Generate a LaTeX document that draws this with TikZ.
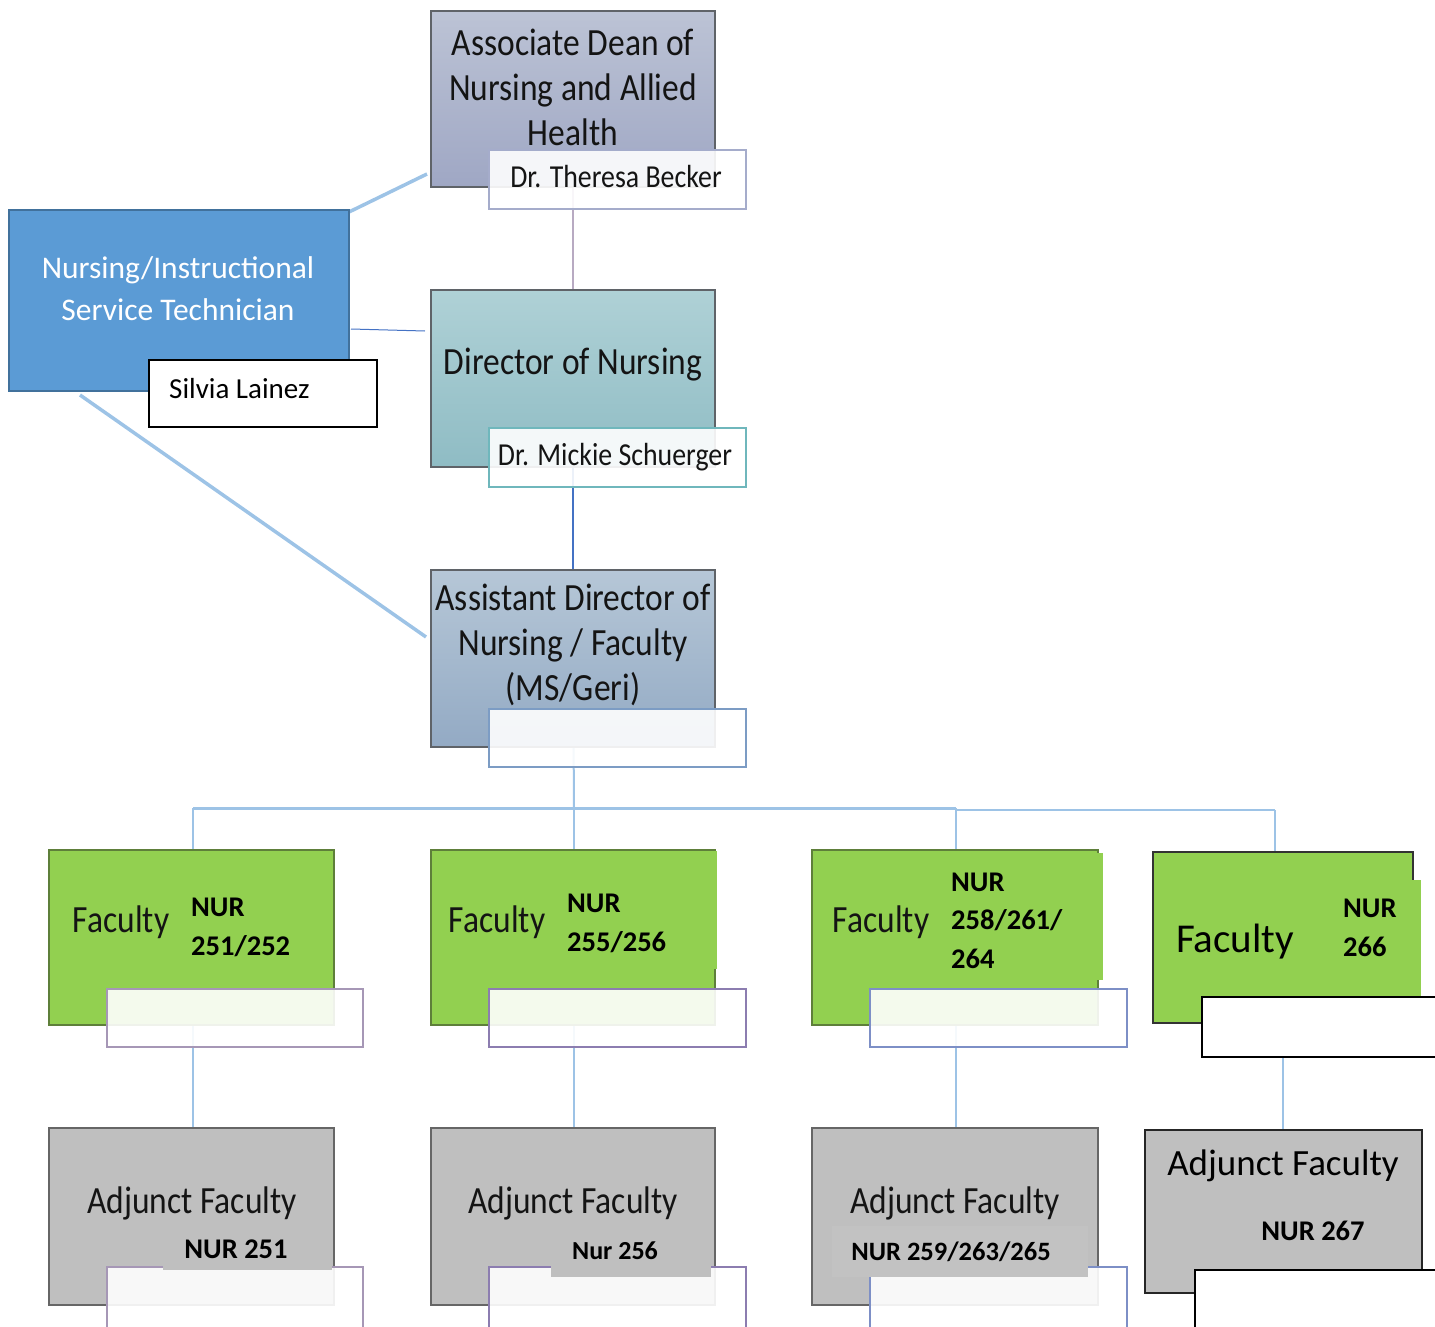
\documentclass[tikz,border=0pt]{standalone}
\usepackage{fontspec}
\setmainfont{Carlito}
\newfontfamily\cond[FakeStretch=0.87]{Carlito}
\usetikzlibrary{calc,backgrounds}
\definecolor{deanT}{HTML}{BCC3D5}
\definecolor{deanB}{HTML}{9FA7C4}
\definecolor{dirT}{HTML}{AFD1D6}
\definecolor{dirB}{HTML}{8FBCC4}
\definecolor{asT}{HTML}{B6C7D7}
\definecolor{asB}{HTML}{93AAC4}
\definecolor{boxline}{HTML}{5F6368}
\definecolor{fgreen}{HTML}{92D050}
\definecolor{gline}{HTML}{5E7F3A}
\definecolor{agray}{HTML}{BFBFBF}
\definecolor{techblue}{HTML}{5B9BD5}
\definecolor{techline}{HTML}{41719C}
\definecolor{lightblue}{HTML}{9DC3E6}
\definecolor{darkblue}{HTML}{4472C4}
\definecolor{mauve}{HTML}{B8AAC2}
\definecolor{lblDean}{HTML}{A5ACCB}
\definecolor{lblDir}{HTML}{6FB7BC}
\definecolor{lblAs}{HTML}{7C9CC4}
\definecolor{lblA}{HTML}{A697B6}
\definecolor{lblB}{HTML}{8C7DB0}
\definecolor{lblC}{HTML}{7D8FC6}
\definecolor{txt}{HTML}{141414}
\begin{document}
\begin{tikzpicture}[x=1pt,y=-1pt,
  box/.style={draw=boxline, line width=1.5pt, inner sep=0pt, outer sep=0pt, anchor=north west},
  lbl/.style={draw, fill=white, fill opacity=0.9, text opacity=1, line width=1.5pt, inner sep=0pt, outer sep=0pt, anchor=north west},
  titletxt/.style={inner sep=0pt, align=center, text=txt, font=\cond\fontsize{38.5}{45}\selectfont},
  nametxt/.style={inner sep=0pt, text=txt, font=\cond\fontsize{32}{38}\selectfont},
  nurtxt/.style={inner sep=0pt, align=left, anchor=west, font=\bfseries\fontsize{28.5}{39}\selectfont},
  lbus/.style={draw=lightblue, line width=2pt},
  thickblue/.style={draw=lightblue, line width=3.5pt},
  textrect/.style={fill=agray, inner sep=0pt, outer sep=0pt, anchor=north west}
]
\useasboundingbox (0,0) rectangle (1435,1327);

% coordinates for connectors
\coordinate (bus0) at (574,808);
\coordinate (d1) at (193,808);
\coordinate (d2) at (574,808);
\coordinate (d3) at (956,808);
\coordinate (d4a) at (956,810);
\coordinate (d4) at (1275,810);
\coordinate (e4) at (1283,1057);
\coordinate (t1) at (349,212);
\coordinate (t1e) at (427,174);
\coordinate (t2) at (351,329);
\coordinate (t2e) at (425,331);
\coordinate (t3) at (80,395);
\coordinate (t3e) at (426,637);

% main boxes
\node[box, top color=deanT, bottom color=deanB, minimum width=284pt, minimum height=176pt] (dean) at (431,11) {};
\node[box, top color=dirT, bottom color=dirB, minimum width=284pt, minimum height=177pt] (dir) at (431,290) {};
\node[box, top color=asT, bottom color=asB, minimum width=284pt, minimum height=177pt] (asst) at (431,570) {};
\node[box, draw=techline, fill=techblue, minimum width=340pt, minimum height=181pt] (tech) at (9,210) {};

% faculty boxes
\node[box, draw=gline, fill=fgreen, minimum width=285pt, minimum height=175pt] (f1) at (49,850) {};
\node[box, draw=gline, fill=fgreen, minimum width=284pt, minimum height=175pt] (f2) at (431,850) {};
\node[box, draw=gline, fill=fgreen, minimum width=286pt, minimum height=175pt] (f3) at (812,850) {};
\node[box, draw=black!80, fill=fgreen, minimum width=260pt, minimum height=171pt] (f4) at (1153,852) {};
\node[textrect, fill=fgreen, minimum width=171pt, minimum height=127pt] (f3x) at (932,853) {};
\node[textrect, fill=fgreen, minimum width=266pt, minimum height=116pt] (f4x) at (1155,880) {};
\node[textrect, fill=fgreen, minimum width=150pt, minimum height=118pt] (f2x) at (567,850.75) {};

% adjunct boxes
\node[box, fill=agray, draw=black!60, minimum width=285pt, minimum height=177pt] (a1) at (49,1128) {};
\node[box, fill=agray, draw=black!60, minimum width=284pt, minimum height=177pt] (a2) at (431,1128) {};
\node[box, fill=agray, draw=black!60, minimum width=286pt, minimum height=177pt] (a3) at (812,1128) {};
\node[box, fill=agray, draw=black!85, minimum width=277pt, minimum height=163pt] (a4) at (1145,1130) {};

% connectors (behind)
\begin{pgfonlayer}{background}
\draw[mauve, line width=1.5pt] (dean.center) -- (dir.center);
\draw[darkblue, line width=1.5pt] (dir.center) -- (asst.center);
\draw[lbus] (asst.center) -- (bus0);
\draw[lbus, line width=3pt] (d1) -- (d3);
\draw[lbus, line width=1.5pt] (d4a) -- (d4);
\draw[thickblue] (t1) -- (t1e);
\draw[darkblue, line width=1pt] (t2) -- (t2e);
\draw[thickblue] (t3) -- (t3e);
\draw[lbus] (d1) -- (d1 |- f1.north);
\draw[lbus] (d2) -- (d2 |- f2.north);
\draw[lbus] (d3) -- (d3 |- f3.north);
\draw[lbus, line width=1.5pt] (d4) -- (d4 |- f4.north);
\draw[lbus] (d1 |- f1.center) -- (d1 |- a1.north);
\draw[lbus] (d2 |- f2.center) -- (d2 |- a2.north);
\draw[lbus] (d3 |- f3.center) -- (d3 |- a3.north);
\draw[lbus, line width=1.5pt] (e4) -- (e4 |- a4.north);
\end{pgfonlayer}

% label boxes
\node[lbl, draw=lblDean, minimum width=257pt, minimum height=59pt] (deanlbl) at (489,150) {};
\node[nametxt] (deanname) at (616,177) {Dr. Theresa Becker};
\node[lbl, draw=lblDir, minimum width=257pt, minimum height=59pt] (dirlbl) at (489,428) {};
\node[nametxt] (dirname) at (615,457) {Dr. Mickie Schuerger};
\node[lbl, draw=lblAs, minimum width=257pt, minimum height=58pt] (asstlbl) at (489,709) {};
\node[lbl, draw=black, fill opacity=1, line width=1.2pt, minimum width=228pt, minimum height=67pt] (techlbl) at (149,360) {};
\node[inner sep=0pt, anchor=west, font=\fontsize{29}{34}\selectfont] (techname) at (169,389) {Silvia Lainez};

\node[lbl, draw=lblA, minimum width=256pt, minimum height=58pt] (f1lbl) at (107,989) {};
\node[lbl, draw=lblB, minimum width=257pt, minimum height=58pt] (f2lbl) at (489,989) {};
\node[lbl, draw=lblC, minimum width=257pt, minimum height=58pt] (f3lbl) at (870,989) {};
\node[lbl, draw=black, fill opacity=1, line width=1.2pt, minimum width=260pt, minimum height=60pt] (f4lbl) at (1202,997) {};

\node[lbl, draw=lblA, minimum width=256pt, minimum height=75pt] (a1lbl) at (107,1267) {};
\node[lbl, draw=lblB, minimum width=257pt, minimum height=75pt] (a2lbl) at (489,1267) {};
\node[lbl, draw=lblC, minimum width=257pt, minimum height=75pt] (a3lbl) at (870,1267) {};
\node[lbl, draw=black, fill opacity=1, line width=1.2pt, minimum width=260pt, minimum height=75pt] (a4lbl) at (1195,1270) {};

% text rects in adjunct boxes
\node[textrect, minimum width=169pt, minimum height=50pt] (a1x) at (163,1220) {};
\node[textrect, minimum width=160pt, minimum height=52pt] (a2x) at (551,1225) {};
\node[textrect, fill=agray!95!white, minimum width=256pt, minimum height=51pt] (a3x) at (832,1226) {};

% titles
\node[titletxt] (deant) at (573,87) {Associate Dean of\\Nursing and Allied\\Health};
\node[titletxt] (dirt) at (573,365) {Director of Nursing};
\node[titletxt] (asstt) at (573,645) {Assistant Director of\\Nursing / Faculty\\(MS/Geri)};
\node[inner sep=0pt, align=center, text=white, font=\fontsize{31.5}{42}\selectfont] (techt) at (178,289) {Nursing/Instructional\\Service Technician};

\node[titletxt] (f1t) at (121,922) {Faculty};
\node[titletxt] (f2t) at (497,922) {Faculty};
\node[titletxt] (f3t) at (881,922) {Faculty};
\node[inner sep=0pt, font=\fontsize{41}{48}\selectfont] (f4t) at (1235,942) {Faculty};

\node[nurtxt] (f1n) at (191,927.5) {NUR\\251/252};
\node[nurtxt] (f2n) at (567,923.5) {NUR\\255/256};
\node[nurtxt, font=\bfseries\fontsize{28.5}{38.5}\selectfont] (f3n) at (951,920.5) {NUR\\258/261/\\264};
\node[nurtxt] (f4n) at (1343,927.5) {NUR\\266};

\node[titletxt] (a1t) at (192,1203) {Adjunct Faculty};
\node[titletxt] (a2t) at (573,1203) {Adjunct Faculty};
\node[titletxt] (a3t) at (955,1203) {Adjunct Faculty};
\node[inner sep=0pt, font=\fontsize{37}{44}\selectfont] (a4t) at (1283,1166) {Adjunct Faculty};

\node[inner sep=0pt, font=\bfseries\fontsize{28.5}{34}\selectfont] (a1n) at (236,1249) {NUR 251};
\node[inner sep=0pt, font=\bfseries\fontsize{26}{34}\selectfont] (a2n) at (615,1251) {Nur 256};
\node[inner sep=0pt, font=\bfseries\fontsize{26.5}{34}\selectfont] (a3n) at (951,1252) {NUR 259/263/265};
\node[inner sep=0pt, font=\bfseries\fontsize{28.5}{34}\selectfont] (a4n) at (1313,1231) {NUR 267};
\end{tikzpicture}
\end{document}
